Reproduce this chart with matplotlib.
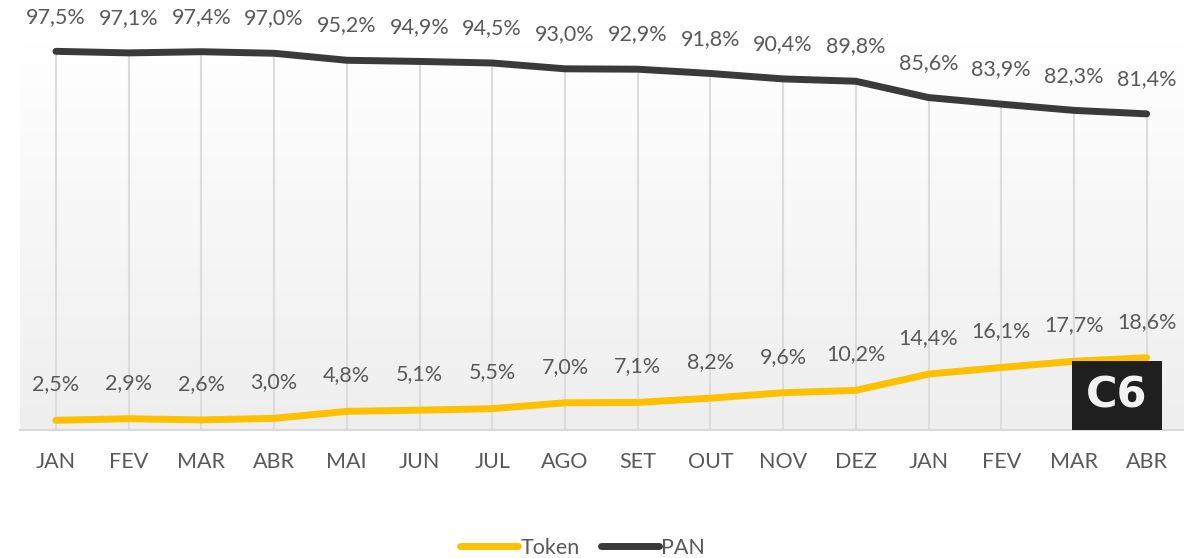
import matplotlib.pyplot as plt
import numpy as np
from matplotlib.patches import Rectangle

meses = ['JAN', 'FEV', 'MAR', 'ABR', 'MAI', 'JUN', 'JUL', 'AGO',
         'SET', 'OUT', 'NOV', 'DEZ', 'JAN', 'FEV', 'MAR', 'ABR']
pan = [97.5, 97.1, 97.4, 97.0, 95.2, 94.9, 94.5, 93.0,
       92.9, 91.8, 90.4, 89.8, 85.6, 83.9, 82.3, 81.4]
token = [2.5, 2.9, 2.6, 3.0, 4.8, 5.1, 5.5, 7.0,
         7.1, 8.2, 9.6, 10.2, 14.4, 16.1, 17.7, 18.6]

cor_token = '#FFC000'
cor_pan = '#3a3a3a'
cor_texto = '#595959'

plt.rcParams['font.family'] = ['Lato', 'DejaVu Sans']

fig = plt.figure(figsize=(11.94, 5.58), dpi=100)
ax = fig.add_axes([0.0164, 0.2294, 0.9744, 0.696])

x = np.arange(len(meses))
ax.set_xlim(-0.5, len(meses) - 0.5)
ax.set_ylim(0, 100)

# fundo em degradê
grad = np.linspace(0, 1, 256).reshape(-1, 1)
ax.imshow(grad, cmap=plt.matplotlib.colors.LinearSegmentedColormap.from_list(
    'g', ['#eeeeee', '#ffffff']), aspect='auto', origin='lower',
    extent=[-0.5, len(meses) - 0.5, 0, 100], zorder=0)

# linhas de projeção
ax.vlines(x, 0, pan, color='#dcdcdc', lw=1.5, zorder=1)

ax.plot(x, token, color=cor_token, lw=5, solid_capstyle='round', label='Token', zorder=3)
ax.plot(x, pan, color=cor_pan, lw=5, solid_capstyle='round', label='PAN', zorder=3)

for xi, v in zip(x, pan):
    ax.annotate(f'{v:.1f}%'.replace('.', ','), (xi, v), xytext=(0, 25),
                textcoords='offset points', ha='center', va='center',
                fontsize=15.5, color=cor_texto)
for xi, v in zip(x, token):
    ax.annotate(f'{v:.1f}%'.replace('.', ','), (xi, v), xytext=(0, 26),
                textcoords='offset points', ha='center', va='center',
                fontsize=15.5, color=cor_texto)

ax.set_xticks(x)
ax.set_xticklabels(meses, fontsize=15.5, color=cor_texto)
ax.tick_params(axis='x', length=0, pad=16)
ax.set_yticks([])
for s in ['top', 'left', 'right']:
    ax.spines[s].set_visible(False)
ax.spines['bottom'].set_color('#d9d9d9')
ax.spines['bottom'].set_linewidth(1.5)

leg = fig.legend(loc='center', bbox_to_anchor=(0.488, 0.018), ncol=2, frameon=False,
                 fontsize=15.5, handlelength=2.7, handletextpad=0.1, columnspacing=1.0,
                 labelcolor=cor_texto)

# logo C6
fig.patches.append(Rectangle((1072 / 1194, 128 / 558), 90 / 1194, 69 / 558,
                             transform=fig.transFigure, facecolor='#1f1f1f',
                             edgecolor='none', zorder=5))
fig.text(1117 / 1194, 162 / 558, 'C6', color='#f2f2f2', fontsize=31,
         family='DejaVu Sans', fontweight='bold', ha='center', va='center', zorder=6)

fig.savefig('out.png', dpi=100)
